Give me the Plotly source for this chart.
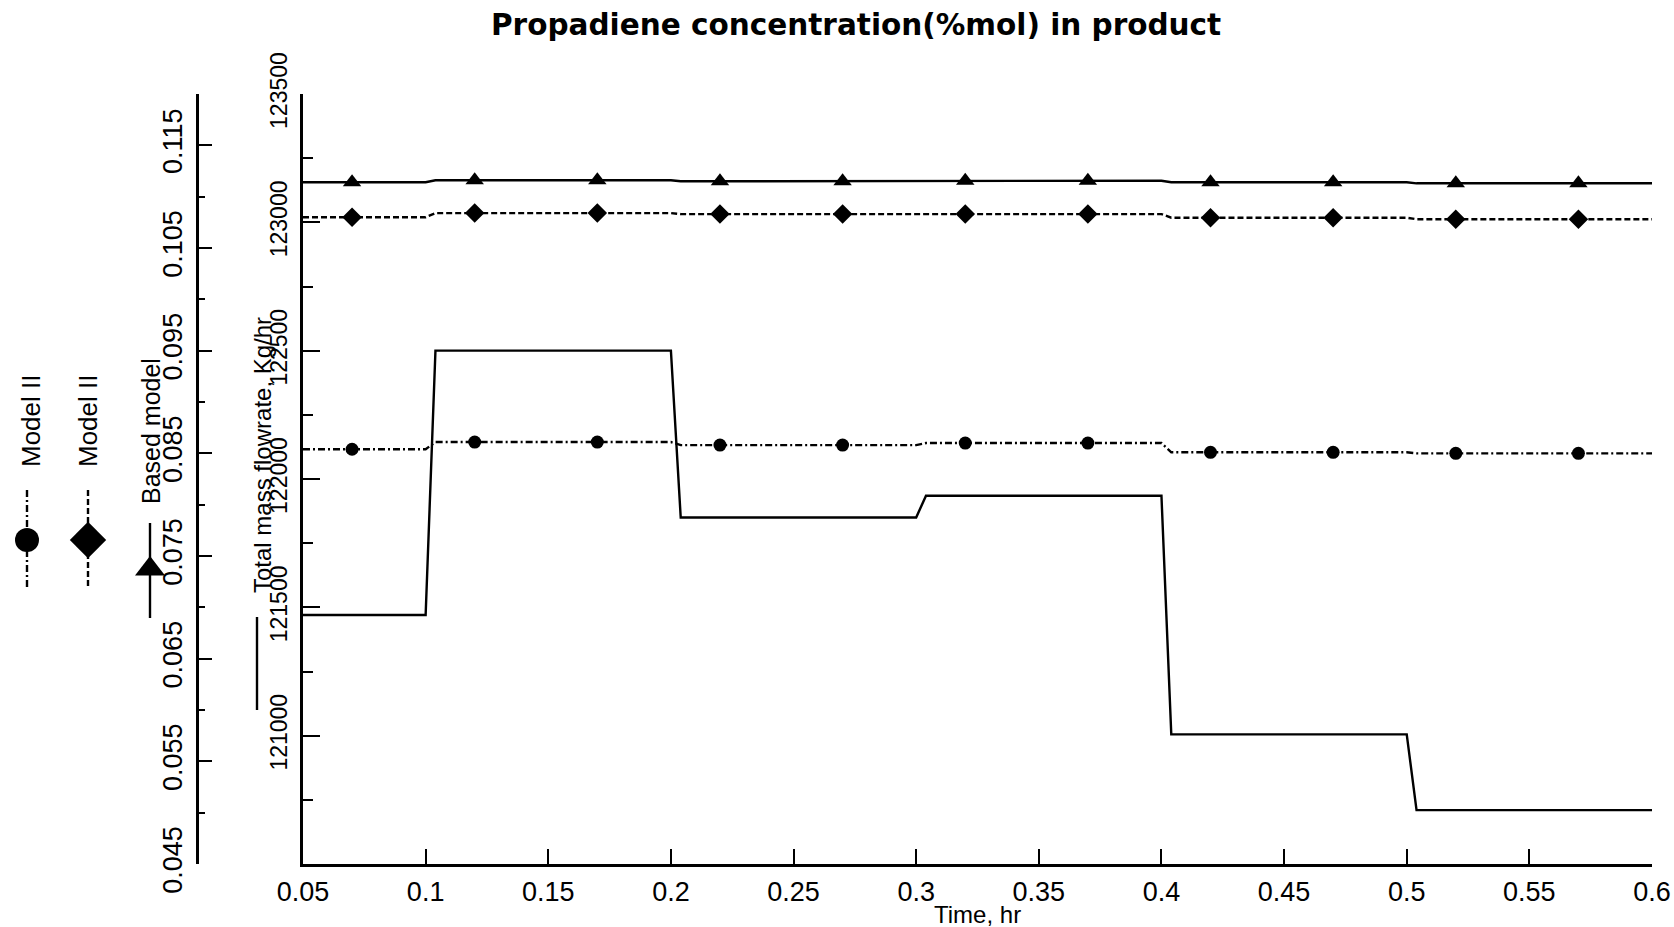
import plotly.graph_objects as go

# ---- data -------------------------------------------------------------
# breakpoints of the step changes (time, hr)
time_steps = [0.05, 0.1, 0.104, 0.2, 0.204, 0.3, 0.304, 0.4, 0.404, 0.5, 0.504, 0.6]

# total mass flowrate, Kg/hr
mass_flow = [121470, 121470, 122500, 122500, 121850, 121850,
             121935, 121935, 121005, 121005, 120710, 120710]

# propadiene concentration (%mol) along the step profile
based_line = [0.1114, 0.1114, 0.1116, 0.1116, 0.1115, 0.1115,
              0.11155, 0.11155, 0.1114, 0.1114, 0.1113, 0.1113]
model_a_line = [0.0854, 0.0854, 0.0861, 0.0861, 0.0858, 0.0858,
                0.0860, 0.0860, 0.0851, 0.0851, 0.0850, 0.0850]
model_b_line = [0.1080, 0.1080, 0.1084, 0.1084, 0.1083, 0.1083,
                0.1083, 0.1083, 0.10795, 0.10795, 0.1078, 0.1078]

# sampled points shown with symbols
marker_time = [0.07, 0.12, 0.17, 0.22, 0.27, 0.32, 0.37, 0.42, 0.47, 0.52, 0.57]
based_pts = [0.1114, 0.1116, 0.1116, 0.1115, 0.1115, 0.11155,
             0.11155, 0.1114, 0.1114, 0.1113, 0.1113]
model_a_pts = [0.0854, 0.0861, 0.0861, 0.0858, 0.0858, 0.0860,
               0.0860, 0.0851, 0.0851, 0.0850, 0.0850]
model_b_pts = [0.1080, 0.1084, 0.1084, 0.1083, 0.1083, 0.1083,
               0.1083, 0.10795, 0.10795, 0.1078, 0.1078]

x_ticks = [0.05, 0.1, 0.15, 0.2, 0.25, 0.3, 0.35, 0.4, 0.45, 0.5, 0.55, 0.6]
x_ticktext = ["0.05", "0.1", "0.15", "0.2", "0.25", "0.3", "0.35",
              "0.4", "0.45", "0.5", "0.55", "0.6"]
mass_ticks = [121000, 121500, 122000, 122500, 123000, 123500]

# ---- layout constants ---------------------------------------------------
W, H = 1674, 927
PLOT_L, PLOT_R = 303, 1652
PLOT_T, PLOT_B = 94, 864
CONC_AXIS_X = 197

FONT = "Liberation Sans, Arial, sans-serif"
BLACK = "#000000"
DASH_B = "6px,3px"
DASH_A = "7px,3px,2px,3px"
LW = 2.4

fig = go.Figure()

# mass flowrate step profile
fig.add_trace(go.Scatter(x=time_steps, y=mass_flow, mode="lines",
                         line=dict(color=BLACK, width=LW),
                         xaxis="x", yaxis="y", name="Total mass flowrate"))

# concentration profiles
for yl, dash, name in [(based_line, "solid", "Based model"),
                       (model_b_line, DASH_B, "Model II"),
                       (model_a_line, DASH_A, "Model II")]:
    fig.add_trace(go.Scatter(x=time_steps, y=yl, mode="lines",
                             line=dict(color=BLACK, width=LW, dash=dash),
                             xaxis="x", yaxis="y2", name=name))

for yp, sym, size, name in [(based_pts, "triangle-up", 16, "Based model"),
                            (model_b_pts, "diamond", 15, "Model II"),
                            (model_a_pts, "circle", 13, "Model II")]:
    fig.add_trace(go.Scatter(x=marker_time, y=yp, mode="markers",
                             marker=dict(symbol=sym, size=size, color=BLACK),
                             xaxis="x", yaxis="y2", name=name))

# legend glyphs, drawn on a full-page pixel overlay
key_items = [
    (27, 490, 588, 540, "circle", 24, DASH_A),
    (88, 490, 588, 540, "diamond", 28, DASH_B),
    (150, 523, 618, 569, "triangle-up", 26, "solid"),
]
for kx, y0, y1, ym, sym, size, dash in key_items:
    fig.add_trace(go.Scatter(x=[kx, kx], y=[y0, y1], mode="lines",
                             line=dict(color=BLACK, width=LW, dash=dash),
                             xaxis="x3", yaxis="y3", hoverinfo="skip"))
    fig.add_trace(go.Scatter(x=[kx], y=[ym], mode="markers",
                             marker=dict(symbol=sym, size=size, color=BLACK),
                             xaxis="x3", yaxis="y3", hoverinfo="skip",
                             cliponaxis=False))
fig.add_trace(go.Scatter(x=[257, 257], y=[617, 710], mode="lines",
                         line=dict(color=BLACK, width=LW),
                         xaxis="x3", yaxis="y3", hoverinfo="skip"))

labels = [
    (31, 421, "Model II", 26),
    (88, 421, "Model II", 26),
    (151, 431, "Based model", 25),
    (262, 455, "Total mass flowrate, Kg/hr", 24),
]
annotations = []
for ax_, ay_, txt, fs in labels:
    annotations.append(dict(x=ax_, y=ay_, xref="x3", yref="y3", text=txt,
                            textangle=-90, showarrow=False,
                            xanchor="center", yanchor="middle",
                            font=dict(family=FONT, size=fs, color=BLACK)))
annotations.append(dict(x=977 / W, y=1 - 914 / H, xref="paper", yref="paper",
                        text="Time, hr", showarrow=False,
                        xanchor="center", yanchor="middle",
                        font=dict(family=FONT, size=24, color=BLACK)))
annotations.append(dict(x=856 / W, y=1 - 25 / H, xref="paper", yref="paper",
                        text="<b>Propadiene concentration(%mol) in product</b>",
                        showarrow=False, xanchor="center", yanchor="middle",
                        font=dict(family="DejaVu Sans, sans-serif", size=29.5,
                                  color=BLACK)))

y_domain = [1 - PLOT_B / H, 1 - PLOT_T / H]

fig.update_layout(
    width=W, height=H,
    margin=dict(l=0, r=0, t=0, b=0),
    template="none",
    paper_bgcolor="white",
    plot_bgcolor="rgba(0,0,0,0)",
    showlegend=False,
    annotations=annotations,
    xaxis=dict(domain=[PLOT_L / W, PLOT_R / W], range=[0.05, 0.6],
               anchor="y", showgrid=False, zeroline=False,
               showline=True, linecolor=BLACK, linewidth=2.5,
               ticks="inside", ticklen=15, tickwidth=2, tickcolor=BLACK,
               tickvals=x_ticks, ticktext=x_ticktext,
               tickfont=dict(family=FONT, size=27, color=BLACK),
               ticklabelstandoff=2),
    yaxis=dict(domain=y_domain, range=[120500, 123500], anchor="x",
               side="left", showgrid=False, zeroline=False,
               showline=True, linecolor=BLACK, linewidth=2.5,
               ticks="inside", ticklen=17, tickwidth=2, tickcolor=BLACK,
               tickvals=mass_ticks, tickformat="d",
               tickangle=-90, tickfont=dict(family=FONT, size=23, color=BLACK),
               ticklabelstandoff=4,
               minor=dict(tick0=120500, dtick=250, ticks="inside",
                          ticklen=10, tickwidth=2, tickcolor=BLACK)),
    yaxis2=dict(domain=y_domain, range=[0.045, 0.12], overlaying="y",
                anchor="free", position=CONC_AXIS_X / W, side="left",
                showgrid=False, zeroline=False,
                showline=True, linecolor=BLACK, linewidth=2.5,
                ticks="inside", ticklen=13, tickwidth=2, tickcolor=BLACK,
                tick0=0.045, dtick=0.01, tickformat=".3f",
                tickangle=-90, tickfont=dict(family=FONT, size=27, color=BLACK),
                ticklabelstandoff=3,
                minor=dict(tick0=0.045, dtick=0.005, ticks="inside",
                           ticklen=6, tickwidth=2, tickcolor=BLACK)),
    xaxis3=dict(domain=[0, 1], range=[0, W], anchor="y3", visible=False,
                fixedrange=True),
    yaxis3=dict(domain=[0, 1], range=[H, 0], anchor="x3", visible=False,
                fixedrange=True),
)

fig.write_html("out.html")
